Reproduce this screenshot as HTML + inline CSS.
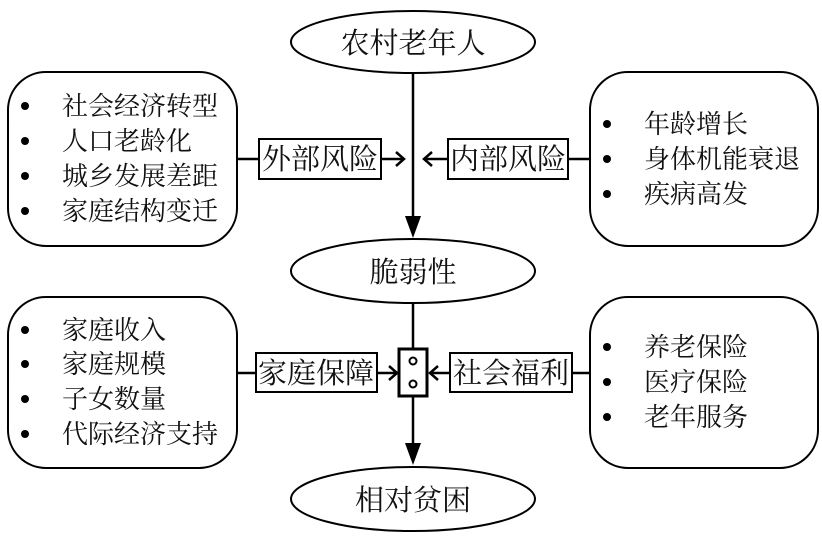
<!DOCTYPE html>
<html><head><meta charset="utf-8"><style>
html,body{margin:0;padding:0;background:#fff;}
svg{display:block;}
text{font-family:"Liberation Serif","Noto Serif CJK SC","Noto Sans CJK SC",serif;fill:#111;}
</style></head><body>
<svg width="822" height="537" viewBox="0 0 822 537" xmlns="http://www.w3.org/2000/svg">
<g fill="none" stroke="#000" stroke-width="2">
<ellipse cx="413" cy="42" rx="122" ry="31"/>
<ellipse cx="413" cy="271" rx="122" ry="32"/>
<ellipse cx="413" cy="499" rx="122" ry="32"/>
<rect x="8" y="72" width="229" height="174" rx="38"/>
<rect x="590" y="72" width="228" height="174" rx="38"/>
<rect x="8" y="297" width="229" height="171" rx="38"/>
<rect x="590" y="297" width="228" height="171" rx="38"/>
<line x1="413" y1="73" x2="413" y2="218" stroke-width="2.5"/>
<line x1="413" y1="303" x2="413" y2="349" stroke-width="2.5"/>
<line x1="413" y1="396" x2="413" y2="445" stroke-width="2.5"/>
<rect x="259" y="139" width="122" height="40"/>
<rect x="448" y="139" width="120" height="40"/>
<rect x="256" y="353" width="121" height="39"/>
<rect x="450" y="353" width="122" height="39"/>
<rect x="399" y="349" width="28" height="47" stroke-width="3"/>
<circle cx="413" cy="361" r="3.5"/>
<circle cx="413" cy="384" r="3.5"/>
<line x1="237" y1="159" x2="259" y2="159" stroke-width="2.5"/>
<line x1="381" y1="159" x2="403" y2="159" stroke-width="2.5"/>
<polyline points="396,152 404,159 396,166" stroke-width="2.5"/>
<line x1="568" y1="159" x2="590" y2="159" stroke-width="2.5"/>
<line x1="424" y1="159" x2="448" y2="159" stroke-width="2.5"/>
<polyline points="432,152 424,159 432,166" stroke-width="2.5"/>
<line x1="237" y1="373" x2="256" y2="373" stroke-width="2.5"/>
<line x1="377" y1="373" x2="396" y2="373" stroke-width="2.5"/>
<polyline points="389,366 397,373 389,380" stroke-width="2.5"/>
<line x1="572" y1="373" x2="590" y2="373" stroke-width="2.5"/>
<line x1="430" y1="373" x2="450" y2="373" stroke-width="2.5"/>
<polyline points="438,366 430,373 438,380" stroke-width="2.5"/>
</g>
<polygon points="405,216 421,216 413,238" fill="#000"/>
<polygon points="405,443 421,443 413,465" fill="#000"/>
<g font-size="29" text-anchor="middle">
<text x="413" y="53">农村老年人</text>
<text x="413" y="282">脆弱性</text>
<text x="413" y="510">相对贫困</text>
</g>
<g font-size="29" text-anchor="middle">
<text x="320" y="169">外部风险</text>
<text x="508" y="169">内部风险</text>
<text x="316" y="383">家庭保障</text>
<text x="511" y="383">社会福利</text>
</g>
<g fill="#000">
<circle cx="25" cy="106" r="4"/><circle cx="25" cy="141" r="4"/><circle cx="25" cy="176" r="4"/><circle cx="25" cy="211" r="4"/>
<circle cx="607" cy="124" r="4"/><circle cx="607" cy="159" r="4"/><circle cx="607" cy="194" r="4"/>
<circle cx="25" cy="330" r="4"/><circle cx="25" cy="364" r="4"/><circle cx="25" cy="399" r="4"/><circle cx="25" cy="434" r="4"/>
<circle cx="607" cy="347" r="4"/><circle cx="607" cy="382" r="4"/><circle cx="607" cy="417" r="4"/>
</g>
<g font-size="26">
<text x="62" y="115">社会经济转型</text>
<text x="62" y="150">人口老龄化</text>
<text x="62" y="185">城乡发展差距</text>
<text x="62" y="220">家庭结构变迁</text>
<text x="644" y="133">年龄增长</text>
<text x="644" y="168">身体机能衰退</text>
<text x="644" y="203">疾病高发</text>
<text x="62" y="339">家庭收入</text>
<text x="62" y="373">家庭规模</text>
<text x="62" y="408">子女数量</text>
<text x="62" y="443">代际经济支持</text>
<text x="644" y="356">养老保险</text>
<text x="644" y="391">医疗保险</text>
<text x="644" y="426">老年服务</text>
</g>
</svg>
</body></html>
